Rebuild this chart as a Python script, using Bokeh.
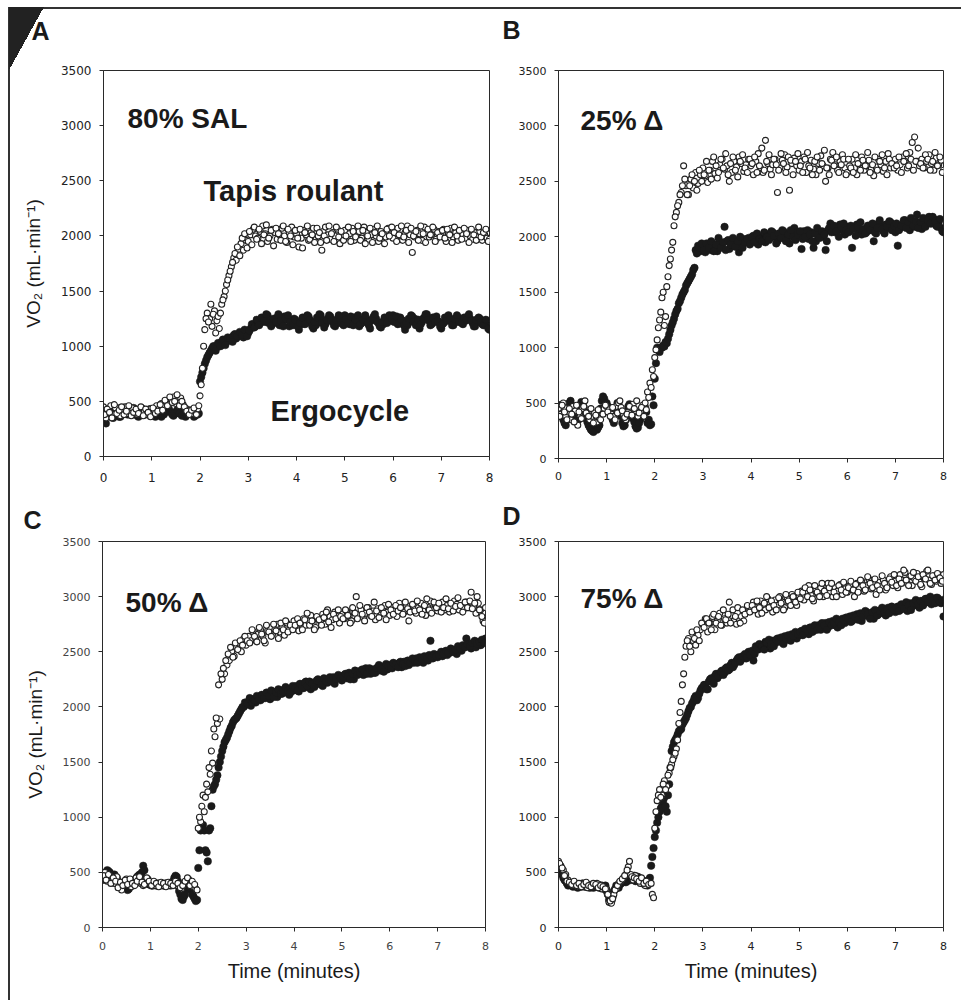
from bokeh.plotting import figure
from bokeh.layouts import column, row
from bokeh.models import Label, Range1d, FixedTicker, Title
from bokeh.embed import file_html
from bokeh.resources import INLINE

# ---------------- data ----------------
X_TICKS = [0, 1, 2, 3, 4, 5, 6, 7, 8]
Y_TICKS = [0, 500, 1000, 1500, 2000, 2500, 3000, 3500]

# breath samples, two interleaved sampling instants (minutes)
TIME_MIN = [
    0.00, 0.05, 0.10, 0.15, 0.20, 0.25, 0.30, 0.35, 0.40, 0.45, 0.50, 0.55, 0.60, 0.65, 0.70, 0.75, 0.80, 0.85, 0.90, 0.95,
    1.00, 1.05, 1.10, 1.15, 1.20, 1.25, 1.30, 1.35, 1.40, 1.45, 1.50, 1.55, 1.60, 1.65, 1.70, 1.75, 1.80, 1.85, 1.90, 1.95,
    2.00, 2.05, 2.10, 2.15, 2.20, 2.25, 2.30, 2.35, 2.40, 2.45, 2.50, 2.55, 2.60, 2.65, 2.70, 2.75, 2.80, 2.85, 2.90, 2.95,
    3.00, 3.05, 3.10, 3.15, 3.20, 3.25, 3.30, 3.35, 3.40, 3.45, 3.50, 3.55, 3.60, 3.65, 3.70, 3.75, 3.80, 3.85, 3.90, 3.95,
    4.00, 4.05, 4.10, 4.15, 4.20, 4.25, 4.30, 4.35, 4.40, 4.45, 4.50, 4.55, 4.60, 4.65, 4.70, 4.75, 4.80, 4.85, 4.90, 4.95,
    5.00, 5.05, 5.10, 5.15, 5.20, 5.25, 5.30, 5.35, 5.40, 5.45, 5.50, 5.55, 5.60, 5.65, 5.70, 5.75, 5.80, 5.85, 5.90, 5.95,
    6.00, 6.05, 6.10, 6.15, 6.20, 6.25, 6.30, 6.35, 6.40, 6.45, 6.50, 6.55, 6.60, 6.65, 6.70, 6.75, 6.80, 6.85, 6.90, 6.95,
    7.00, 7.05, 7.10, 7.15, 7.20, 7.25, 7.30, 7.35, 7.40, 7.45, 7.50, 7.55, 7.60, 7.65, 7.70, 7.75, 7.80, 7.85, 7.90, 7.95,
    8.00,
]
TIME_MID = [
    0.025, 0.075, 0.125, 0.175, 0.225, 0.275, 0.325, 0.375, 0.425, 0.475, 0.525, 0.575, 0.625, 0.675, 0.725, 0.775, 0.825, 0.875, 0.925, 0.975,
    1.025, 1.075, 1.125, 1.175, 1.225, 1.275, 1.325, 1.375, 1.425, 1.475, 1.525, 1.575, 1.625, 1.675, 1.725, 1.775, 1.825, 1.875, 1.925, 1.975,
    2.025, 2.075, 2.125, 2.175, 2.225, 2.275, 2.325, 2.375, 2.425, 2.475, 2.525, 2.575, 2.625, 2.675, 2.725, 2.775, 2.825, 2.875, 2.925, 2.975,
    3.025, 3.075, 3.125, 3.175, 3.225, 3.275, 3.325, 3.375, 3.425, 3.475, 3.525, 3.575, 3.625, 3.675, 3.725, 3.775, 3.825, 3.875, 3.925, 3.975,
    4.025, 4.075, 4.125, 4.175, 4.225, 4.275, 4.325, 4.375, 4.425, 4.475, 4.525, 4.575, 4.625, 4.675, 4.725, 4.775, 4.825, 4.875, 4.925, 4.975,
    5.025, 5.075, 5.125, 5.175, 5.225, 5.275, 5.325, 5.375, 5.425, 5.475, 5.525, 5.575, 5.625, 5.675, 5.725, 5.775, 5.825, 5.875, 5.925, 5.975,
    6.025, 6.075, 6.125, 6.175, 6.225, 6.275, 6.325, 6.375, 6.425, 6.475, 6.525, 6.575, 6.625, 6.675, 6.725, 6.775, 6.825, 6.875, 6.925, 6.975,
    7.025, 7.075, 7.125, 7.175, 7.225, 7.275, 7.325, 7.375, 7.425, 7.475, 7.525, 7.575, 7.625, 7.675, 7.725, 7.775, 7.825, 7.875, 7.925, 7.975,
]

# Panel A - 80% SAL
A_ERGO = [
    320, 300, 380, 410, 350, 420, 390, 360, 410, 440, 380, 400, 420, 390, 370, 410, 400, 380, 420, 410,
    370, 390, 420, 400, 360, 380, 420, 440, 400, 370, 390, 430, 410, 380, 360, 400, 410, 390, 370, 380,
    680, 760, 840, 900, 940, 980, 1000, 990, 1010, 1040, 1030, 1060, 1050, 1080, 1100, 1070, 1090, 1120, 1080, 1100,
    1120, 1160, 1200, 1180, 1230, 1210, 1250, 1220, 1280, 1240, 1200, 1230, 1260, 1190, 1220, 1270, 1240, 1180, 1210, 1250,
    1220, 1150, 1200, 1250, 1230, 1270, 1210, 1160, 1190, 1240, 1280, 1230, 1200, 1250, 1270, 1220, 1180, 1210, 1260, 1240,
    1280, 1250, 1200, 1230, 1260, 1220, 1180, 1210, 1250, 1240, 1190, 1230, 1270, 1250, 1210, 1170, 1200, 1240, 1260, 1230,
    1280, 1240, 1200, 1260, 1230, 1150, 1190, 1240, 1270, 1250, 1210, 1160, 1220, 1260, 1290, 1230, 1200, 1240, 1270, 1220,
    1160, 1210, 1250, 1280, 1230, 1190, 1220, 1260, 1240, 1200, 1230, 1270, 1250, 1210, 1180, 1220, 1250, 1200, 1230, 1190,
    1150,
]
A_ERGO_MID = [
    350, 400, 430, 370, 390, 440, 360, 400, 430, 390, 410, 380, 440, 400, 360, 390, 420, 400, 380, 430,
    400, 360, 410, 430, 380, 400, 450, 410, 380, 400, 420, 390, 370, 400, 380, 420, 390, 360, 400, 390,
    720, 800, 870, 920, 960, 1000, 960, 1030, 1000, 1060, 1010, 1080, 1070, 1040, 1110, 1090, 1130, 1100, 1150, 1090,
    1140, 1200, 1170, 1240, 1190, 1260, 1230, 1290, 1210, 1180, 1250, 1220, 1290, 1230, 1180, 1250, 1280, 1220, 1190, 1240,
    1180, 1210, 1260, 1200, 1280, 1240, 1180, 1220, 1260, 1290, 1210, 1170, 1240, 1280, 1230, 1190, 1240, 1280, 1210, 1190,
    1240, 1210, 1270, 1190, 1240, 1280, 1200, 1240, 1280, 1210, 1160, 1250, 1290, 1220, 1180, 1220, 1260, 1210, 1280, 1250,
    1220, 1270, 1210, 1240, 1190, 1210, 1250, 1280, 1220, 1190, 1240, 1200, 1250, 1290, 1240, 1190, 1260, 1220, 1230, 1180,
    1200, 1260, 1230, 1240, 1190, 1250, 1280, 1220, 1210, 1260, 1240, 1290, 1230, 1180, 1240, 1260, 1220, 1190, 1240, 1160,
]
A_TAPIS = [
    450, 350, 420, 460, 380, 440, 400, 370, 430, 450, 390, 410, 440, 400, 380, 420, 440, 410, 380, 430,
    400, 420, 460, 430, 480, 450, 500, 470, 520, 540, 480, 510, 530, 470, 440, 420, 400, 390, 410, 430,
    550, 800, 1150, 1300, 1250, 1180, 1320, 1230, 1160, 1380, 1450, 1560, 1640, 1720, 1800, 1780, 1880, 1930, 1870, 1960,
    1950, 2010, 2060, 2000, 1980, 2040, 2090, 2020, 1950, 2000, 2060, 2030, 1970, 2010, 2070, 2000, 1940, 2030, 2080, 1990,
    2020, 1900, 1980, 2050, 2010, 1960, 2030, 2070, 1990, 2000, 1940, 2040, 2080, 2010, 1970, 2030, 2000, 2060, 1930, 2010,
    2050, 1990, 2020, 2070, 1960, 2010, 2040, 1980, 2080, 2030, 1970, 2010, 2060, 2000, 1950, 2040, 2020, 1990, 2070, 2010,
    1980, 2040, 2070, 2000, 1960, 2030, 2090, 2010, 1850, 1990, 2050, 2020, 1960, 2080, 2030, 1990, 2010, 2060, 1970, 2040,
    2000, 2060, 1950, 2020, 2070, 1990, 2030, 1960, 2040, 2010, 1980, 2050, 2000, 1970, 2030, 1990, 2040, 1960, 2010, 1980,
    1970,
]
A_TAPIS_MID = [
    380, 430, 400, 350, 470, 390, 420, 450, 380, 410, 460, 370, 400, 430, 390, 450, 370, 430, 400, 360,
    440, 390, 410, 470, 420, 510, 460, 540, 490, 500, 560, 460, 500, 450, 410, 380, 420, 440, 380, 460,
    650, 1000, 1250, 1220, 1380, 1290, 1120, 1270, 1300, 1420, 1500, 1600, 1680, 1760, 1840, 1900, 1820, 1980, 2020, 1890,
    2040, 1920, 2080, 1970, 2060, 1930, 2010, 2100, 1980, 2050, 1910, 2070, 2020, 1960, 2090, 1950, 2060, 2000, 1920, 2050,
    1980, 2060, 1890, 2030, 2090, 1970, 2010, 1940, 2070, 2030, 1870, 2000, 1960, 2090, 2020, 1950, 2080, 1990, 2040, 1960,
    2000, 2080, 1950, 2040, 1990, 2090, 1960, 2050, 1930, 2000, 2070, 1940, 2030, 2090, 1980, 2020, 1930, 2060, 2000, 2080,
    2030, 1950, 2010, 2090, 1990, 2050, 1940, 2070, 2000, 2040, 1960, 2090, 2020, 1940, 2060, 2010, 2080, 1950, 2030, 1990,
    2050, 1980, 2060, 2010, 1940, 2080, 2000, 2050, 1970, 2070, 2020, 1940, 2060, 2010, 1960, 2080, 1990, 2030, 2060, 1950,
]

# Panel B - 25% delta
B_ERGO = [
    420, 480, 350, 300, 420, 520, 450, 380, 340, 460, 500, 420, 330, 280, 250, 270, 260, 300, 520, 540,
    500, 460, 380, 320, 450, 480, 380, 290, 350, 470, 430, 360, 290, 280, 350, 420, 460, 320, 300, 560,
    720, 1000, 960, 1000, 1010, 1040, 1120, 1200, 1260, 1330, 1400, 1450, 1500, 1560, 1600, 1640, 1700, 1880, 1920, 1870,
    1900, 1860, 1920, 1880, 1940, 1900, 1870, 1950, 1920, 2090, 1960, 1890, 1930, 1970, 1940, 1860, 1920, 1980, 1950, 1990,
    1960, 2010, 1970, 1930, 2000, 1990, 1950, 2020, 1990, 2040, 2000, 1960, 2010, 2060, 2020, 1980, 1940, 2030, 2080, 2040,
    2010, 1890, 2050, 2020, 1980, 2040, 1900, 1960, 2000, 2030, 2000, 1880, 2060, 2120, 2080, 2040, 2070, 2110, 2060, 2020,
    2090, 2050, 1900, 2080, 2110, 2060, 2020, 2070, 2040, 2100, 2080, 1960, 2030, 2120, 2090, 2050, 2110, 2080, 2130, 2070,
    2040, 1920, 2080, 2110, 2150, 2100, 2060, 2130, 2090, 2200, 2120, 2070, 2110, 2140, 2180, 2120, 2160, 2100, 2130, 2080,
    2040,
]
B_ERGO_MID = [
    480, 400, 320, 380, 500, 480, 400, 330, 420, 510, 460, 360, 300, 260, 240, 300, 280, 450, 560, 500,
    470, 420, 350, 410, 500, 430, 320, 300, 420, 490, 380, 330, 270, 320, 400, 480, 420, 350, 310, 480,
    860, 980, 1000, 1020, 1050, 1080, 1160, 1230, 1300, 1350, 1420, 1480, 1520, 1580, 1620, 1660, 1720, 1850, 1900, 1940,
    1880, 1940, 1900, 1960, 1870, 1930, 1990, 1900, 1950, 1880, 1970, 1930, 1990, 1910, 1960, 2000, 1900, 1950, 1980, 1930,
    2000, 1950, 2030, 1980, 1960, 2040, 2000, 1970, 2050, 2010, 1940, 2030, 1990, 2050, 1960, 2020, 2060, 2000, 1970, 2020,
    2050, 1980, 2000, 2060, 2020, 1960, 2030, 2080, 1990, 2050, 2020, 1960, 2080, 2040, 2100, 2050, 2000, 2090, 2120, 2060,
    2040, 2100, 2070, 2010, 2090, 2130, 2060, 2030, 2100, 2060, 2120, 2040, 2080, 2150, 2070, 2030, 2090, 2140, 2060, 2100,
    2120, 2060, 2100, 2150, 2080, 2130, 2170, 2100, 2140, 2080, 2130, 2170, 2090, 2150, 2120, 2180, 2140, 2090, 2160, 2050,
]
B_TAPIS = [
    450, 400, 500, 380, 420, 350, 470, 430, 300, 380, 450, 520, 400, 350, 380, 410, 330, 360, 420, 450,
    470, 440, 400, 380, 470, 500, 460, 400, 350, 420, 460, 490, 430, 380, 420, 480, 500, 600, 680, 800,
    910, 1070, 1250, 1450, 1200, 1550, 1740, 1880, 2100, 2220, 2310, 2400, 2640, 2460, 2380, 2520, 2440, 2580, 2480, 2560,
    2620, 2550, 2490, 2600, 2680, 2570, 2530, 2650, 2700, 2610, 2640, 2500, 2580, 2680, 2630, 2720, 2660, 2590, 2650, 2700,
    2640, 2560, 2680, 2750, 2620, 2580, 2870, 2660, 2610, 2650, 2700, 2400, 2620, 2690, 2740, 2630, 2420, 2660, 2710, 2640,
    2600, 2680, 2720, 2580, 2640, 2690, 2610, 2560, 2660, 2730, 2640, 2500, 2620, 2700, 2760, 2650, 2600, 2680, 2740, 2620,
    2580, 2640, 2700, 2620, 2560, 2660, 2720, 2600, 2640, 2690, 2610, 2550, 2630, 2700, 2650, 2590, 2680, 2750, 2620, 2660,
    2700, 2600, 2650, 2720, 2680, 2620, 2760, 2850, 2900, 2680, 2640, 2700, 2620, 2680, 2740, 2660, 2600, 2710, 2650, 2690,
    2600,
]
B_TAPIS_MID = [
    380, 480, 420, 350, 450, 400, 330, 480, 420, 360, 470, 410, 380, 450, 320, 390, 440, 350, 400, 480,
    420, 380, 460, 350, 410, 520, 430, 370, 400, 470, 390, 450, 520, 410, 460, 380, 440, 550, 640, 740,
    980, 1180, 1320, 1500, 1280, 1640, 1800, 1950, 2180, 2280, 2380, 2460, 2520, 2380, 2460, 2560, 2500, 2420, 2600, 2500,
    2560, 2680, 2600, 2520, 2720, 2640, 2580, 2700, 2620, 2750, 2560, 2660, 2720, 2600, 2540, 2680, 2740, 2620, 2580, 2700,
    2660, 2720, 2580, 2640, 2800, 2600, 2680, 2740, 2560, 2700, 2650, 2600, 2750, 2660, 2580, 2720, 2690, 2560, 2680, 2750,
    2640, 2580, 2700, 2760, 2620, 2560, 2680, 2720, 2600, 2660, 2780, 2620, 2560, 2690, 2640, 2720, 2580, 2650, 2700, 2560,
    2700, 2620, 2580, 2740, 2660, 2600, 2690, 2640, 2760, 2580, 2650, 2720, 2600, 2680, 2740, 2620, 2560, 2700, 2660, 2620,
    2640, 2720, 2580, 2680, 2750, 2640, 2700, 2600, 2680, 2800, 2660, 2620, 2740, 2700, 2600, 2680, 2760, 2640, 2720, 2580,
]

# Panel C - 50% delta
C_ERGO = [
    430, 480, 520, 500, 460, 480, 450, 390, 360, 410, 380, 350, 400, 420, 440, 470, 450, 560, 430, 400,
    390, 380, 400, 390, 380, 390, 390, 400, 390, 400, 450, 460, 330, 260, 280, 350, 400, 340, 280, 240,
    540, 880, 930, 700, 600, 900, 1250, 1300, 1380, 1500, 1600, 1680, 1720, 1780, 1830, 1880, 1900, 1940, 1980, 2000,
    2020, 2050, 2010, 2070, 2040, 2090, 2060, 2100, 2080, 2120, 2070, 2140, 2110, 2090, 2150, 2120, 2160, 2130, 2110, 2170,
    2150, 2190, 2140, 2200, 2170, 2230, 2180, 2160, 2220, 2200, 2250, 2210, 2190, 2240, 2220, 2270, 2230, 2210, 2260, 2280,
    2240, 2290, 2260, 2310, 2280, 2250, 2320, 2300, 2330, 2290, 2350, 2320, 2300, 2340, 2310, 2360, 2330, 2350, 2370, 2340,
    2380, 2350, 2390, 2370, 2400, 2360, 2410, 2390, 2380, 2420, 2400, 2440, 2410, 2430, 2400, 2450, 2420, 2600, 2440, 2470,
    2450, 2480, 2460, 2500, 2470, 2490, 2520, 2500, 2480, 2530, 2510, 2540, 2620, 2550, 2530, 2560, 2540, 2580, 2560, 2600,
    2620,
]
C_ERGO_MID = [
    460, 500, 510, 470, 440, 460, 420, 370, 390, 360, 340, 380, 410, 430, 460, 480, 500, 520, 410, 390,
    380, 390, 380, 400, 390, 380, 400, 390, 380, 420, 470, 420, 300, 250, 300, 380, 360, 300, 260, 250,
    700, 900, 880, 680, 880, 1100, 1280, 1340, 1450, 1550, 1640, 1700, 1750, 1810, 1860, 1890, 1920, 1960, 2000, 2040,
    2030, 2080, 2040, 2060, 2100, 2070, 2110, 2080, 2130, 2100, 2150, 2090, 2130, 2160, 2120, 2140, 2180, 2150, 2130, 2190,
    2170, 2150, 2210, 2180, 2220, 2190, 2230, 2210, 2180, 2240, 2230, 2200, 2260, 2230, 2250, 2240, 2270, 2250, 2290, 2260,
    2270, 2300, 2280, 2250, 2300, 2330, 2290, 2310, 2340, 2320, 2300, 2350, 2330, 2310, 2350, 2380, 2340, 2320, 2390, 2370,
    2360, 2400, 2380, 2360, 2410, 2390, 2370, 2420, 2400, 2440, 2420, 2400, 2450, 2430, 2460, 2440, 2470, 2450, 2480, 2460,
    2470, 2500, 2480, 2510, 2490, 2530, 2500, 2520, 2550, 2530, 2560, 2540, 2570, 2550, 2580, 2600, 2570, 2590, 2610, 2580,
]
C_TAPIS = [
    450, 500, 420, 470, 430, 400, 460, 380, 340, 400, 440, 410, 370, 420, 450, 430, 400, 380, 420, 440,
    410, 400, 380, 400, 390, 380, 400, 390, 380, 400, 410, 380, 390, 350, 400, 420, 440, 400, 370, 350,
    900, 960, 1200, 1180, 1230, 1390, 1490, 1730, 1850, 1890, 2250, 2300, 2380, 2420, 2500, 2460, 2540, 2580, 2500, 2620,
    2560, 2640, 2600, 2680, 2620, 2660, 2700, 2640, 2580, 2690, 2720, 2660, 2700, 2750, 2680, 2720, 2650, 2760, 2700, 2740,
    2780, 2720, 2690, 2760, 2800, 2740, 2780, 2830, 2760, 2720, 2800, 2780, 2840, 2750, 2880, 2820, 2790, 2860, 2800, 2760,
    2840, 2800, 2870, 2820, 2780, 2860, 3000, 2840, 2880, 2810, 2850, 2900, 2830, 2870, 2790, 2890, 2840, 2880, 2920, 2860,
    2830, 2900, 2870, 2820, 2940, 2880, 2860, 2920, 2780, 2880, 2910, 2850, 2900, 2940, 2870, 2830, 2900, 2960, 2890, 2920,
    2870, 2910, 2950, 2880, 2920, 2860, 2900, 2960, 2930, 2880, 2920, 2890, 2950, 2900, 3040, 2910, 2850, 2940, 2880, 2780,
    2900,
]
C_TAPIS_MID = [
    470, 430, 480, 400, 450, 420, 360, 410, 380, 430, 390, 440, 400, 380, 420, 460, 410, 390, 450, 420,
    380, 420, 400, 370, 410, 400, 370, 410, 400, 380, 420, 400, 360, 380, 420, 450, 380, 420, 390, 340,
    1000, 1100, 1050, 1300, 1450, 1600, 1800, 1900, 2200, 2300, 2350, 2420, 2480, 2540, 2450, 2580, 2520, 2600, 2560, 2640,
    2600, 2580, 2700, 2640, 2590, 2720, 2660, 2600, 2740, 2680, 2640, 2750, 2690, 2620, 2760, 2700, 2780, 2680, 2740, 2700,
    2740, 2800, 2760, 2700, 2790, 2850, 2740, 2780, 2700, 2820, 2790, 2740, 2810, 2860, 2770, 2720, 2840, 2800, 2880, 2820,
    2800, 2880, 2830, 2760, 2900, 2850, 2800, 2920, 2840, 2780, 2900, 2860, 2820, 2950, 2870, 2810, 2900, 2850, 2790, 2930,
    2880, 2840, 2920, 2870, 2900, 2840, 2950, 2890, 2860, 2930, 2870, 2960, 2880, 2840, 2920, 2980, 2880, 2850, 2950, 2900,
    2940, 2860, 2900, 2980, 2890, 2940, 2870, 2910, 2990, 2920, 2860, 2950, 2900, 2960, 2890, 2940, 3000, 2880, 2820, 2760,
]

# Panel D - 75% delta
D_ERGO = [
    560, 520, 450, 420, 380, 400, 370, 390, 360, 380, 400, 370, 380, 360, 390, 380, 370, 360, 380, 350,
    330, 250, 240, 330, 380, 360, 400, 420, 410, 440, 430, 450, 420, 460, 440, 400, 420, 380, 450, 640,
    820, 950, 1050, 1100, 1180, 1050, 1300, 1600, 1680, 1720, 1780, 1800, 1860, 1900, 1960, 2000, 2050, 2100, 2080, 2150,
    2180, 2200, 2160, 2250, 2230, 2280, 2260, 2300, 2330, 2310, 2360, 2340, 2400, 2380, 2420, 2450, 2430, 2460, 2440, 2500,
    2480, 2420, 2550, 2520, 2560, 2540, 2590, 2560, 2530, 2600, 2580, 2620, 2600, 2590, 2640, 2610, 2630, 2660, 2640, 2620,
    2650, 2690, 2670, 2700, 2660, 2720, 2690, 2710, 2740, 2700, 2730, 2760, 2720, 2750, 2780, 2740, 2720, 2770, 2800, 2760,
    2790, 2820, 2780, 2800, 2840, 2810, 2780, 2830, 2860, 2820, 2850, 2800, 2870, 2840, 2880, 2850, 2830, 2900, 2870, 2890,
    2860, 2910, 2880, 2920, 2900, 2870, 2940, 2910, 2950, 2920, 2900, 2960, 2940, 2980, 2950, 2930, 2970, 2990, 2960, 2940,
    2820,
]
D_ERGO_MID = [
    540, 480, 430, 400, 390, 380, 400, 370, 380, 370, 380, 390, 370, 380, 360, 370, 390, 370, 360, 380,
    300, 230, 280, 350, 370, 390, 410, 430, 420, 460, 440, 470, 430, 450, 420, 410, 400, 430, 560, 720,
    880, 1000, 1080, 1150, 1100, 1200, 1450, 1640, 1700, 1750, 1790, 1840, 1880, 1930, 1990, 2030, 2080, 2060, 2120, 2170,
    2200, 2160, 2230, 2260, 2210, 2300, 2280, 2320, 2290, 2350, 2330, 2380, 2360, 2400, 2440, 2410, 2460, 2480, 2450, 2470,
    2510, 2480, 2530, 2570, 2550, 2520, 2580, 2610, 2570, 2550, 2610, 2590, 2630, 2570, 2620, 2650, 2600, 2640, 2680, 2660,
    2680, 2650, 2710, 2690, 2720, 2680, 2740, 2700, 2720, 2760, 2740, 2700, 2770, 2740, 2760, 2800, 2770, 2740, 2790, 2810,
    2800, 2770, 2830, 2810, 2790, 2850, 2820, 2870, 2840, 2800, 2860, 2880, 2830, 2870, 2900, 2860, 2880, 2850, 2910, 2880,
    2900, 2870, 2930, 2890, 2950, 2920, 2880, 2940, 2970, 2930, 2960, 2920, 2980, 2950, 3000, 2960, 2940, 2990, 2950, 2970,
]
D_TAPIS = [
    600, 560, 520, 480, 430, 400, 380, 400, 370, 390, 400, 380, 360, 390, 370, 380, 400, 370, 350, 360,
    350, 230, 220, 300, 350, 400, 420, 450, 480, 550, 480, 430, 470, 440, 400, 420, 380, 410, 400, 300,
    900, 1150, 1250, 1200, 1330, 1280, 1400, 1480, 1550, 1620, 1850, 2050, 2300, 2550, 2620, 2500, 2600, 2560, 2650, 2700,
    2750, 2800, 2680, 2760, 2820, 2700, 2780, 2850, 2740, 2800, 2760, 2950, 2830, 2780, 2750, 2800, 2820, 2780, 2860, 2900,
    2880, 2950, 2900, 2840, 2960, 2920, 2880, 2980, 2940, 2860, 2970, 2920, 3000, 2950, 2900, 2990, 2950, 3020, 2960, 2920,
    3000, 3050, 2970, 3040, 3100, 3010, 2960, 3060, 3020, 3080, 3000, 3060, 3120, 3040, 3000, 3080, 3050, 3110, 3020, 3070,
    3040, 3100, 3060, 3000, 3120, 3080, 3140, 3050, 3100, 3160, 3070, 3110, 3020, 3130, 3090, 3150, 3060, 3120, 3180, 3100,
    3140, 3080, 3200, 3150, 3220, 3120, 3180, 3100, 3160, 3210, 3130, 3090, 3170, 3230, 3150, 3110, 3190, 3140, 3200, 3120,
    3200,
]
D_TAPIS_MID = [
    580, 540, 470, 420, 410, 390, 420, 380, 400, 370, 390, 410, 380, 370, 400, 390, 360, 380, 370, 350,
    300, 240, 260, 340, 380, 420, 440, 470, 520, 600, 460, 450, 440, 420, 450, 400, 420, 390, 400, 270,
    1050, 1200, 1180, 1300, 1250, 1380, 1450, 1520, 1580, 1700, 1950, 2200, 2450, 2600, 2550, 2680, 2620, 2700, 2600, 2760,
    2720, 2800, 2760, 2700, 2840, 2760, 2820, 2740, 2880, 2790, 2840, 2760, 2880, 2820, 2900, 2760, 2880, 2840, 2920, 2860,
    2920, 2880, 2960, 2900, 2850, 2940, 3000, 2900, 2960, 2920, 2880, 2990, 2940, 2880, 3020, 2960, 2920, 3000, 2950, 3040,
    2980, 3040, 3080, 3000, 3060, 2980, 3100, 3040, 3000, 3120, 3050, 3010, 3080, 3120, 3040, 3000, 3100, 3060, 3130, 3040,
    3080, 3140, 3060, 3110, 3040, 3150, 3100, 3060, 3180, 3120, 3080, 3160, 3100, 3060, 3190, 3120, 3080, 3160, 3130, 3200,
    3100, 3160, 3120, 3240, 3150, 3100, 3190, 3220, 3140, 3180, 3110, 3200, 3160, 3240, 3120, 3190, 3150, 3210, 3170, 3140,
]

PANEL_LETTERS = ["A", "B", "C", "D"]
PANEL_TITLES = ["80% SAL", "25% \u0394", "50% \u0394", "75% \u0394"]
SERIES_NAMES = ["Tapis roulant", "Ergocycle"]
Y_LABEL = "VO\u2082 (mL\u00b7min\u207b\u00b9)"
X_LABEL = "Time (minutes)"

# ---------------- layout geometry (canvas pixels of each panel) ----------------
GEOM = {
    "A": dict(left=103, right=11, top=67, bottom=42, fw=386, fh=386),
    "B": dict(left=58, right=18, top=70, bottom=37, fw=385, fh=388),
    "C": dict(left=102, right=15, top=42, bottom=77, fw=383, fh=386),
    "D": dict(left=58, right=18, top=46, bottom=73, fw=385, fh=386),
}
XMAX, YMAX = 8.0, 3500.0
INK = "#1a1a1a"


def c2d(g, px, py):
    """canvas pixel of a panel -> data coordinate of that panel"""
    x = (px - g["left"]) / g["fw"] * XMAX
    y = (g["top"] + g["fh"] - py) / g["fh"] * YMAX
    return x, y


def make_panel(key, ergo, ergo_mid, tapis, tapis_mid, title, title_px, letter_left,
               letter_gap, ylab, xlab, tick_size, tick_color, xstand):
    g = GEOM[key]
    p = figure(frame_width=g["fw"], frame_height=g["fh"],
               min_border_left=g["left"], min_border_right=g["right"],
               min_border_top=g["top"], min_border_bottom=g["bottom"],
               x_range=Range1d(0, XMAX), y_range=Range1d(0, YMAX),
               output_backend="svg", toolbar_location=None, title=None,
               background_fill_color="white", border_fill_color=None,
               outline_line_color="#2a2a2a", outline_line_width=1)
    p.xgrid.visible = False
    p.ygrid.visible = False
    p.xaxis.ticker = FixedTicker(ticks=X_TICKS)
    p.yaxis.ticker = FixedTicker(ticks=Y_TICKS)
    for ax in (p.xaxis[0], p.yaxis[0]):
        ax.axis_line_color = "#2a2a2a"
        ax.major_tick_line_color = "#2a2a2a"
        ax.minor_tick_line_color = None
        ax.major_tick_out = 4
        ax.major_tick_in = 0
        ax.major_label_text_font = "DejaVu Sans"
        ax.major_label_text_font_size = tick_size
        ax.major_label_text_color = tick_color
    p.yaxis.major_label_standoff = 8
    p.xaxis.major_label_standoff = xstand
    if ylab:
        p.yaxis.axis_label = Y_LABEL
        p.yaxis.axis_label_text_font = "Liberation Sans"
        p.yaxis.axis_label_text_font_style = "normal"
        p.yaxis.axis_label_text_font_size = "19px"
        p.yaxis.axis_label_text_color = INK
        p.yaxis.axis_label_standoff = 14
    if xlab:
        p.xaxis.axis_label = X_LABEL
        p.xaxis.axis_label_text_font = "Liberation Sans"
        p.xaxis.axis_label_text_font_style = "normal"
        p.xaxis.axis_label_text_font_size = "20px"
        p.xaxis.axis_label_text_color = INK
        p.xaxis.axis_label_standoff = 7

    # series: cycle (filled) first, treadmill (open) on top
    for tx_, ey in ((TIME_MIN, ergo), (TIME_MID, ergo_mid)):
        p.scatter(x=tx_, y=ey, marker="circle", size=7.5,
                  fill_color=INK, line_color=INK, line_width=0.5)
    for tx_, ty_ in ((TIME_MIN, tapis), (TIME_MID, tapis_mid)):
        p.scatter(x=tx_, y=ty_, marker="circle", size=6,
                  fill_color="white", line_color="#222222", line_width=1.1)

    tx, ty = c2d(g, *title_px)
    p.add_layout(Label(x=tx, y=ty, text=title, text_font="Liberation Sans",
                       text_font_style="bold", text_font_size="28px",
                       text_color=INK, text_align="left", text_baseline="alphabetic"))
    # blank spacer (nearest the frame), then the panel letter above it
    p.add_layout(Title(text=" ", text_font_size="2px", standoff=letter_gap,
                       text_color="#ffffff"), "above")
    p.add_layout(Title(text=key, align="left", vertical_align="top",
                       offset=letter_left - g["left"], standoff=0,
                       text_font="Liberation Sans", text_font_style="bold",
                       text_font_size="25px", text_color=INK), "above")
    return p


pA = make_panel("A", A_ERGO, A_ERGO_MID, A_TAPIS, A_TAPIS_MID, PANEL_TITLES[0], (127, 115),
                31, 20, True, False, "12px", "#222222", 12)
pB = make_panel("B", B_ERGO, B_ERGO_MID, B_TAPIS, B_TAPIS_MID, PANEL_TITLES[1], (80, 120),
                2, 21, False, False, "11px", "#222222", 9)
pC = make_panel("C", C_ERGO, C_ERGO_MID, C_TAPIS, C_TAPIS_MID, PANEL_TITLES[2], (125, 103),
                23, 1.5, True, True, "11px", "#444444", 10)
pD = make_panel("D", D_ERGO, D_ERGO_MID, D_TAPIS, D_TAPIS_MID, PANEL_TITLES[3], (80, 103),
                2, 5.5, False, True, "11px", "#222222", 10)

# series names inside panel A
gA = GEOM["A"]
for name, pos in zip(SERIES_NAMES, [(203, 187), (270, 407)]):
    x, y = c2d(gA, *pos)
    pA.add_layout(Label(x=x, y=y, text=name, text_font="Liberation Sans",
                        text_font_style="bold", text_font_size="29px",
                        text_color=INK, text_align="left", text_baseline="alphabetic"))

# scanned page frame: top rule, left rule and dark corner (CSS background of the page block)
FRAME_CSS = ("linear-gradient(to bottom right, #222222 50%, transparent 50%) 9px 7px / 35px 63px no-repeat, "
             "linear-gradient(#333333, #333333) 9px 7px / 952px 2px no-repeat, "
             "linear-gradient(#333333, #333333) 8px 7px / 2px 993px no-repeat, "
             "#ffffff")

layout = column(row(pA, pB), row(pC, pD), styles={"background": FRAME_CSS})
open("out.html", "w").write(file_html(layout, INLINE))
